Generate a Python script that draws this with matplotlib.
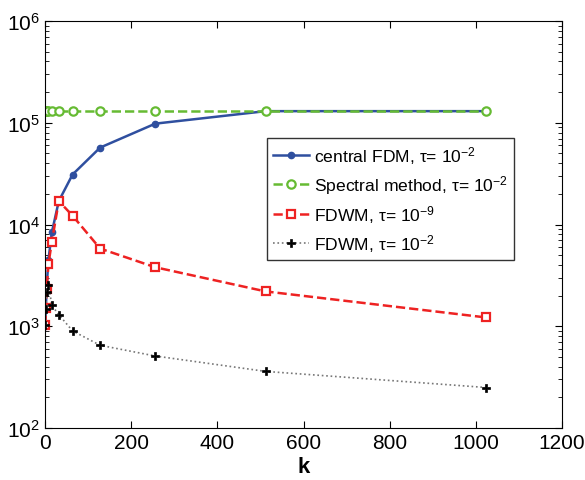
import matplotlib
matplotlib.use("Agg")
import matplotlib.pyplot as plt
from matplotlib.ticker import LogLocator, NullFormatter

plt.rcParams["font.family"] = ["Liberation Sans", "DejaVu Sans"]
plt.rcParams["mathtext.fontset"] = "custom"
plt.rcParams["mathtext.rm"] = "Liberation Sans"
plt.rcParams["mathtext.it"] = "Liberation Sans:italic"

k = [1, 2, 4, 8, 16, 32, 64, 128, 256, 512, 1024]
central_fdm = [1000, 1500, 2500, 4500, 8400, 17000, 31000, 57000, 98000, 130000, 130000]
spectral = [130000] * 11
fdwm_tau9 = [1030, 1500, 2300, 4100, 6800, 17000, 12200, 5800, 3800, 2200, 1220]
fdwm_tau2 = [1030, 1470, 2150, 2550, 1600, 1300, 900, 650, 510, 360, 250]

labels = [
    "central FDM, \u03c4= 10$^{-2}$",
    "Spectral method, \u03c4= 10$^{-2}$",
    "FDWM, \u03c4= 10$^{-9}$",
    "FDWM, \u03c4= 10$^{-2}$",
]

fig = plt.figure(figsize=(5.85, 4.81), dpi=100)
ax = fig.add_axes([45 / 585, 52 / 481, 517 / 585, 407 / 481])

ax.semilogy(k, central_fdm, "-", color="#2f4f9f", lw=1.8, marker="o", ms=4.5, label=labels[0])
ax.semilogy(k, spectral, "--", color="#66bb33", lw=1.8, marker="o", ms=6,
            mfc="white", mew=1.6, label=labels[1])
ax.semilogy(k, fdwm_tau9, "--", color="#ee2222", lw=1.8, marker="s", ms=5.5,
            mfc="white", mew=1.6, label=labels[2])
ax.semilogy(k, fdwm_tau2, ":", color="#777777", lw=1.2, marker="P", ms=6,
            mfc="black", mec="black", mew=0.5, label=labels[3])

ax.set_xlim(0, 1200)
ax.set_ylim(1e2, 1e6)
ax.set_xticks(range(0, 1201, 200))
ax.yaxis.set_minor_locator(LogLocator(base=10, subs=range(2, 10)))
ax.yaxis.set_minor_formatter(NullFormatter())
ax.tick_params(which="both", direction="in", top=True, right=True, labelsize=15)
ax.tick_params(which="major", length=5)
ax.tick_params(which="minor", length=3)
ax.set_xlabel("k", fontsize=16, fontweight="bold", labelpad=3)

leg = ax.legend(loc="upper left", bbox_to_anchor=(0.429, 0.713), fontsize=12.6,
                frameon=True, fancybox=False, edgecolor="black", borderpad=0.35,
                handlelength=2.05, handletextpad=0.3, labelspacing=0.4,
                numpoints=1, borderaxespad=0)
leg.get_frame().set_linewidth(1.0)

fig.savefig("out.png", dpi=100)
